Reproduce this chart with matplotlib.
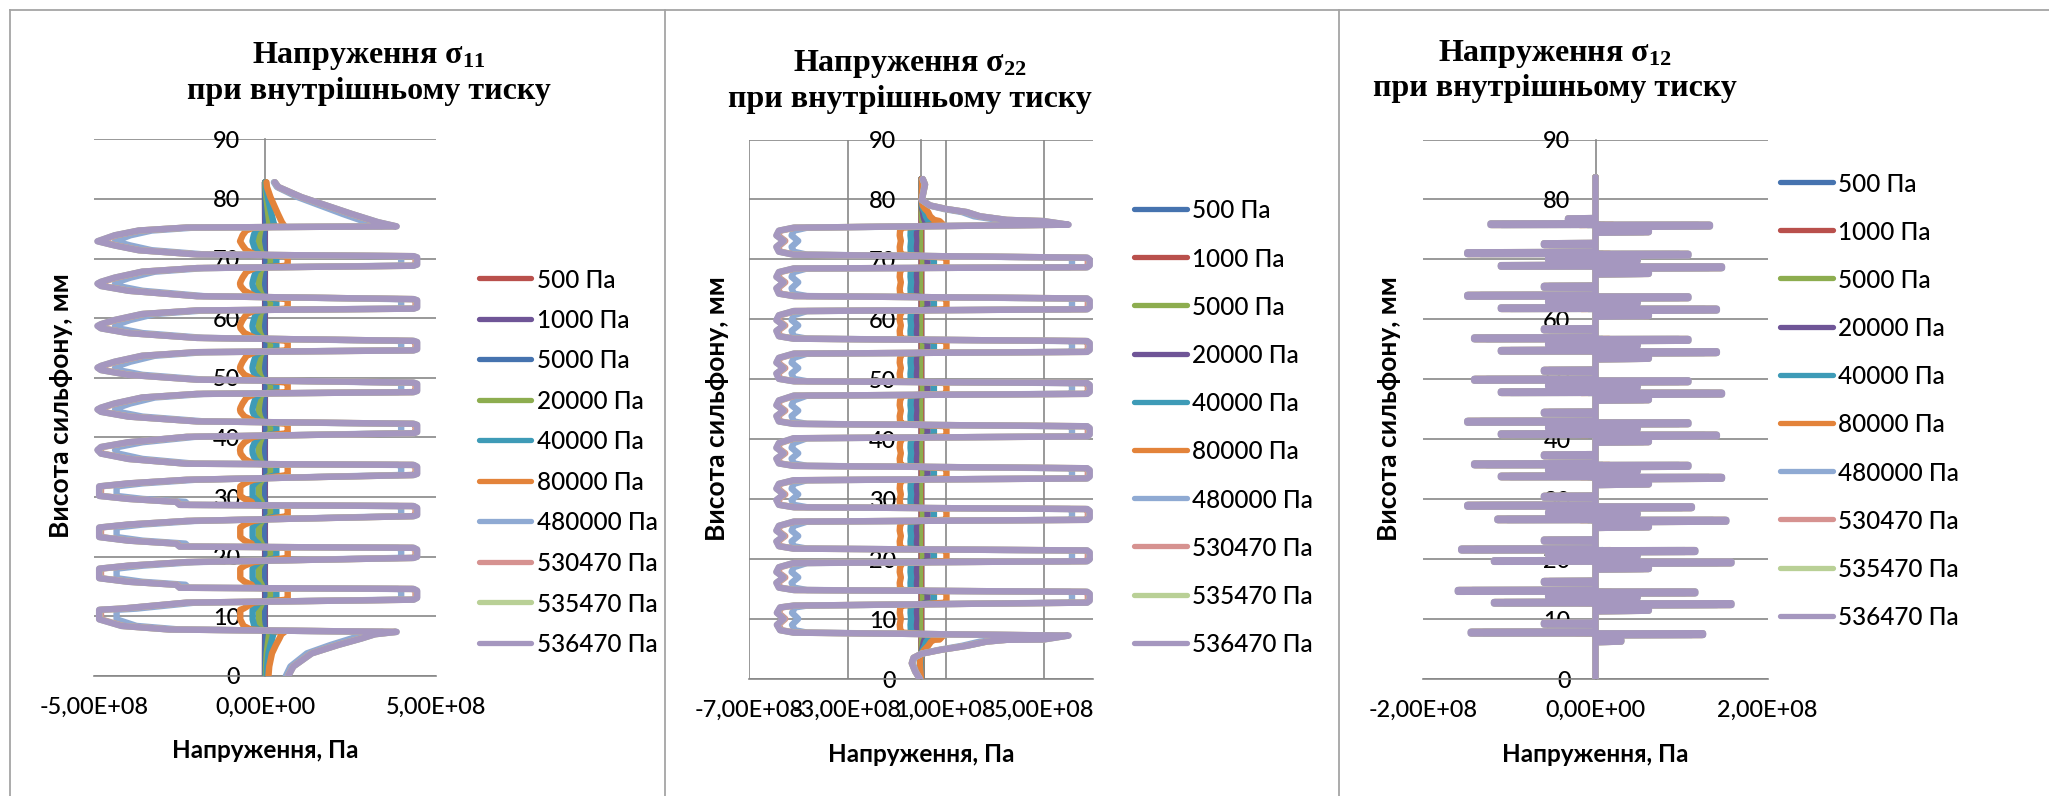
import numpy as np
import matplotlib.pyplot as plt
from matplotlib.lines import Line2D
from matplotlib.ticker import FixedLocator, FuncFormatter

plt.rcParams['font.family'] = ['Lato', 'Noto Sans', 'DejaVu Sans']
plt.rcParams['mathtext.fontset'] = 'custom'
plt.rcParams['mathtext.rm'] = 'Liberation Serif:bold'
plt.rcParams['mathtext.it'] = 'Liberation Serif:bold'
plt.rcParams['mathtext.bf'] = 'Liberation Serif:bold'

# pressures of the load cases (legend)
pressures = [500, 1000, 5000, 20000, 40000, 80000, 480000, 530470, 535470, 536470]
labels = [f"{p} Па" for p in pressures]

colors_s11 = ['#B9504C', '#6F5597', '#4673AF', '#8DAD4F', '#3E9BB7', '#E3833A',
              '#8FAAD3', '#D69290', '#B9D096', '#A597BF']
colors_s22 = ['#4673AF', '#B9504C', '#8DAD4F', '#6F5597', '#3E9BB7', '#E3833A',
              '#8FAAD3', '#D69290', '#B9D096', '#A597BF']

# sigma_11 at 536470 Pa along the bellows: (stress, 1e8 Pa ; height, mm)
s11_profile = [
    (0.68, 0.0), (0.83, 1.6), (1.37, 3.8), (2.14, 5.2), (2.83, 6.3), (3.22, 7.0), (3.85, 7.4),
    (-2.8, 7.8), (-4.2, 8.4), (-4.85, 9.5), (-4.85, 11.1), (-4.2, 11.3), (-2.3, 12.3),
    (4.35, 12.8), (4.45, 13.1), (4.45, 14.3), (4.35, 14.6),
    (-2.5, 14.8), (-2.6, 15.3), (-4.0, 15.8), (-4.85, 16.4), (-4.85, 18.0), (-4.0, 18.5), (-2.3, 19.1),
    (4.35, 19.8), (4.45, 20.0), (4.45, 21.2), (4.35, 21.5),
    (-2.5, 21.7), (-2.6, 22.2), (-4.0, 22.7), (-4.85, 23.3), (-4.85, 24.9), (-4.0, 25.4), (-2.3, 26.0),
    (4.35, 26.8), (4.45, 27.0), (4.45, 28.2), (4.35, 28.5),
    (-2.5, 28.7), (-2.6, 29.2), (-4.0, 29.7), (-4.85, 30.2), (-4.85, 31.8), (-4.0, 32.3), (-2.3, 32.9),
    (4.35, 33.7), (4.45, 33.9), (4.45, 35.1), (4.35, 35.4),
    (-2.3, 35.6), (-4.0, 36.4), (-4.8, 37.3), (-4.9, 37.9), (-4.8, 38.4), (-4.0, 39.2), (-2.3, 40.1),
    (4.35, 40.7), (4.45, 40.9), (4.45, 42.1), (4.35, 42.3),
    (-2.0, 42.7), (-4.0, 43.5), (-4.8, 44.3), (-4.9, 44.7), (-4.8, 45.0), (-4.4, 45.7), (-3.6, 46.7), (-2.0, 47.3),
    (4.35, 47.6), (4.45, 47.8), (4.45, 49.0), (4.35, 49.2),
    (-2.0, 49.7), (-4.0, 50.5), (-4.8, 51.3), (-4.9, 51.7), (-4.8, 52.0), (-4.4, 52.7), (-3.6, 53.7), (-2.0, 54.3),
    (4.35, 54.6), (4.45, 54.8), (4.45, 56.0), (4.35, 56.2),
    (-2.0, 56.7), (-4.0, 57.5), (-4.8, 58.3), (-4.9, 58.7), (-4.8, 59.0), (-4.4, 59.7), (-3.6, 60.7), (-2.0, 61.3),
    (4.35, 61.6), (4.45, 61.8), (4.45, 63.0), (4.35, 63.2),
    (-2.0, 63.7), (-4.0, 64.6), (-4.8, 65.4), (-4.9, 65.8), (-4.8, 66.1), (-4.4, 66.8), (-3.6, 67.8), (-2.0, 68.4),
    (4.35, 68.8), (4.45, 69.0), (4.45, 70.2), (4.35, 70.4),
    (-2.0, 70.7), (-3.7, 71.4), (-4.4, 72.2), (-4.9, 72.9), (-4.4, 73.9), (-3.7, 74.7), (-2.3, 75.2),
    (3.85, 75.4), (3.31, 76.1), (2.53, 77.5), (1.07, 80.3), (0.39, 82.0), (0.29, 82.8),
]

# sigma_22 at 536470 Pa
s22_profile = [
    (-0.05, 0.0), (-0.25, 1.3), (-0.39, 2.7), (-0.32, 3.6), (0.02, 4.3), (0.76, 4.9), (1.85, 5.6),
    (2.66, 6.3), (3.48, 6.6), (4.97, 6.65), (5.99, 7.3),
    (-5.2, 7.8), (-5.75, 8.2), (-5.88, 9.1), (-5.6, 10.1), (-5.88, 11.1), (-5.75, 12.0), (-5.2, 12.3),
    (6.75, 12.8), (6.85, 13.1), (6.85, 14.3), (6.75, 14.6),
    (-5.2, 14.9), (-5.8, 15.3), (-5.9, 16.1), (-5.6, 17.0), (-5.9, 17.9), (-5.8, 18.7), (-5.2, 19.4),
    (6.75, 19.7), (6.85, 20.0), (6.85, 21.2), (6.75, 21.5),
    (-5.2, 21.8), (-5.8, 22.2), (-5.9, 23.0), (-5.6, 23.9), (-5.9, 24.8), (-5.8, 25.6), (-5.2, 26.3),
    (6.75, 26.6), (6.85, 26.9), (6.85, 28.1), (6.75, 28.4),
    (-5.2, 28.7), (-5.8, 29.1), (-5.9, 29.9), (-5.6, 30.85), (-5.9, 31.8), (-5.8, 32.6), (-5.2, 33.2),
    (6.75, 33.5), (6.85, 33.8), (6.85, 34.9), (6.75, 35.2),
    (-5.2, 35.6), (-5.8, 36.0), (-5.9, 36.8), (-5.6, 37.7), (-5.9, 38.6), (-5.8, 39.4), (-5.2, 40.2),
    (6.75, 40.5), (6.85, 40.8), (6.85, 41.9), (6.75, 42.2),
    (-5.2, 42.6), (-5.8, 43.0), (-5.9, 43.9), (-5.6, 44.8), (-5.9, 45.7), (-5.8, 46.5), (-5.2, 47.3),
    (6.75, 47.6), (6.85, 47.9), (6.85, 49.1), (6.75, 49.4),
    (-5.2, 49.7), (-5.8, 50.1), (-5.9, 51.0), (-5.6, 51.9), (-5.9, 52.8), (-5.8, 53.6), (-5.2, 54.3),
    (6.75, 54.6), (6.85, 54.9), (6.85, 56.1), (6.75, 56.4),
    (-5.2, 56.8), (-5.8, 57.2), (-5.9, 58.1), (-5.6, 59.0), (-5.9, 59.9), (-5.8, 60.7), (-5.2, 61.4),
    (6.75, 61.7), (6.85, 62.0), (6.85, 63.2), (6.75, 63.5),
    (-5.2, 63.9), (-5.8, 64.3), (-5.9, 65.2), (-5.6, 66.2), (-5.9, 67.1), (-5.8, 67.9), (-5.2, 68.5),
    (6.75, 68.7), (6.85, 69.0), (6.85, 70.0), (6.75, 70.3),
    (-5.2, 70.8), (-5.8, 71.3), (-5.9, 72.1), (-5.6, 73.1), (-5.9, 74.0), (-5.8, 74.8), (-5.2, 75.3),
    (5.99, 75.8), (4.97, 76.4), (3.48, 76.6), (2.39, 77.2), (1.85, 77.9), (1.04, 78.4), (0.36, 79.0),
    (0.02, 79.9), (0.08, 81.1), (0.15, 82.5), (0.06, 83.4),
]

# sigma_12 at 536470 Pa: levels (mm) and extents (1e8 Pa) of the long strokes
s12_b_level = [7.65, 14.6, 21.5, 28.8, 35.7, 42.8, 49.8, 56.7, 63.8, 70.9]
s12_b_left = [-1.45, -1.6, -1.56, -1.49, -1.41, -1.49, -1.41, -1.41, -1.49, -1.49]
s12_b_right = [1.25, 1.16, 1.16, 1.12, 1.08, 1.08, 1.08, 1.08, 1.08, 1.08]
s12_a_level = [12.6, 19.55, 26.5, 33.65, 40.7, 47.7, 54.6, 61.7, 68.75, 75.7]
s12_a_left = [-1.18, -1.18, -1.14, -1.1, -1.1, -1.1, -1.1, -1.1, -1.1, -1.22]
s12_a_right = [1.58, 1.58, 1.52, 1.47, 1.41, 1.47, 1.41, 1.41, 1.47, 1.33]
s12_stub_left = -0.6
s12_stub_right = 0.62
s12_top = 83.7

s12_profile = [(0, 0), (0, 6.2), (0.3, 6.3), (0.3, 6.6), (0, 6.7)]
for k, (b, bl, br, a, al, ar) in enumerate(zip(s12_b_level, s12_b_left, s12_b_right,
                                                s12_a_level, s12_a_left, s12_a_right)):
    s12_profile += [(0, b - 0.3), (br, b - 0.25), (br, b + 0.05), (bl, b), (bl, b + 0.3), (0, b + 0.35),
                    (0, b + 1.45), (s12_stub_left, b + 1.5), (s12_stub_left, b + 1.8), (0, b + 1.85),
                    (0, a - 1.25), (s12_stub_right, a - 1.15), (s12_stub_right, a - 0.85), (0, a - 0.8),
                    (0, a - 0.3), (ar, a - 0.2), (ar, a + 0.1), (al, a + 0.05), (al, a + 0.3), (0, a + 0.35)]
    if k < len(s12_a_level) - 1:
        s12_profile += [(0, a + 0.9), (0.49, a + 1.0), (0.49, a + 1.2), (-0.55, a + 1.15),
                        (-0.55, a + 1.4), (0, a + 1.45)]
s12_profile += [(0, 76.5), (-0.32, 76.6), (-0.32, 76.85), (0, 76.9), (0, s12_top)]

W, H = 2049, 796
fig = plt.figure(figsize=(W / 100, H / 100), dpi=100)


def fx(x):
    return x / W


def fy(y):
    return 1 - y / H


def sci(v, pos):
    return f"{v:.2E}".replace('.', ',')


panels = [
    dict(profile=s11_profile, colors=colors_s11, rect=(94, 436, 139.3, 676), xlim=(-5e8, 5e8),
         xticks=[-5e8, 0, 5e8], vgrid=False, sub='11', xlab_x=265,
         title_x=368.6, title_y=(63.5, 99), ylab_x=61, ylab_y=406, xlab_y=751,
         leg=(479, 531, 537, 278, 40.5)),
    dict(profile=s22_profile, colors=colors_s22, rect=(749.3, 1093.4, 139.5, 679.4), xlim=(-7e8, 7e8),
         xticks=[-7e8, -3e8, 1e8, 5e8], vgrid=True, sub='22', xlab_x=921,
         title_x=910, title_y=(71, 106.6), ylab_x=717, ylab_y=409, xlab_y=755,
         leg=(1134, 1187, 1192, 209, 48.2)),
    dict(profile=s12_profile, colors=colors_s22, rect=(1423.3, 1767.7, 139.5, 679.4), xlim=(-2e8, 2e8),
         xticks=[-2e8, 0, 2e8], vgrid=False, sub='12', xlab_x=1595.5,
         title_x=1555, title_y=(61, 96.4), ylab_x=1389, ylab_y=409, xlab_y=755,
         leg=(1780, 1833, 1838, 182, 48.2)),
]

grid_c = '#878787'
tick_fs = 16.9
for pn in panels:
    x0, x1, ytop, ybot = pn['rect']
    ax = fig.add_axes([fx(x0), fy(ybot), (x1 - x0) / W, (ybot - ytop) / H])
    prof = np.array(pn['profile'], dtype=float)
    for p, c in zip(pressures, pn['colors']):
        ax.plot(prof[:, 0] * 1e8 * p / pressures[-1], prof[:, 1], color=c, lw=4.6,
                solid_joinstyle='round', solid_capstyle='round', zorder=3)
    ax.set_xlim(*pn['xlim'])
    ax.set_ylim(0, 90)
    ax.yaxis.set_major_locator(FixedLocator(range(0, 91, 10)))
    ax.xaxis.set_major_locator(FixedLocator(pn['xticks']))
    ax.xaxis.set_major_formatter(FuncFormatter(sci))
    ax.grid(axis='y', color=grid_c, lw=1.2, zorder=1)
    if pn['vgrid']:
        ax.grid(axis='x', color=grid_c, lw=1.2, zorder=1)
    for s in ['top', 'right']:
        ax.spines[s].set_visible(False)
    ax.spines['left'].set_position(('data', 0))
    ax.spines['left'].set_color(grid_c)
    ax.spines['left'].set_linewidth(1.2)
    ax.spines['left'].set_zorder(2)
    ax.spines['bottom'].set_color(grid_c)
    ax.spines['bottom'].set_linewidth(1.2)
    ax.tick_params(axis='both', length=0, labelsize=tick_fs, colors='black')
    ax.tick_params(axis='y', pad=18)
    ax.tick_params(axis='x', pad=14.8)
    for t in ax.get_xticklabels() + ax.get_yticklabels():
        t.set_fontweight('medium')
    ax.patch.set_visible(False)

    # titles
    fig.text(fx(pn['title_x']), fy(pn['title_y'][0]), f"Напруження $\\sigma_{{{pn['sub']}}}$",
             ha='center', va='baseline', fontsize=23, fontweight='bold', family='Liberation Serif')
    fig.text(fx(pn['title_x']), fy(pn['title_y'][1]), "при внутрішньому тиску",
             ha='center', va='baseline', fontsize=23, fontweight='bold', family='Liberation Serif')
    fig.text(fx(pn['ylab_x']), fy(pn['ylab_y']), "Висота сильфону, мм", rotation=90,
             ha='center', va='center', fontsize=19, fontweight='bold')
    fig.text(fx(pn['xlab_x']), fy(pn['xlab_y']), "Напруження, Па",
             ha='center', va='center', fontsize=17.5, fontweight='bold')

    # legend
    lx0, lx1, tx, ly0, ldy = pn['leg']
    for i, (lab, c) in enumerate(zip(labels, pn['colors'])):
        yy = ly0 + i * ldy
        fig.add_artist(Line2D([fx(lx0), fx(lx1)], [fy(yy), fy(yy)], color=c, lw=3.8,
                              solid_capstyle='round'))
        fig.text(fx(tx), fy(yy), lab, ha='left', va='center_baseline', fontsize=17.5,
                 fontweight='medium')

# panel frames
frame_c = '#A5A5A5'
fig.add_artist(Line2D([fx(9.5), fx(W)], [fy(9.5), fy(9.5)], color=frame_c, lw=1.3))
for xv in [9.5, 665, 1339]:
    fig.add_artist(Line2D([fx(xv), fx(xv)], [fy(9.5), fy(H)], color=frame_c, lw=1.3))

fig.savefig('out.png', dpi=100)
